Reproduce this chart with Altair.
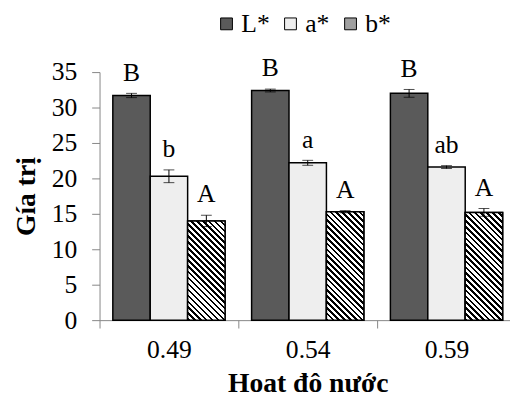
import altair as alt
import pandas as pd

categories = ["0.49", "0.54", "0.59"]
series = ["L*", "a*", "b*"]
L_vals = [31.7, 32.4, 32.0]
a_vals = [20.3, 22.2, 21.6]
b_vals = [14.0, 15.3, 15.2]
L_err = [0.3, 0.2, 0.55]
a_err = [0.9, 0.35, 0.2]
b_err = [0.8, 0.15, 0.55]
L_letters = ["B", "B", "B"]
a_letters = ["b", "a", "ab"]
b_letters = ["A", "A", "A"]
fill_colors = ["#5a5a5a", "#eeeeee", "#a0a0a0"]

rows = []
for s, vals, errs, lets in zip(series, [L_vals, a_vals, b_vals], [L_err, a_err, b_err],
                               [L_letters, a_letters, b_letters]):
    for c, v, e, t in zip(categories, vals, errs, lets):
        rows.append({"cat": c, "series": s, "value": v, "lo": v - e, "hi": v + e, "letter": t})
df = pd.DataFrame(rows)

FONT = "Liberation Serif"
PLOT_H = 252
Y_MAX = 35
STEP = 141
XO_PAD = 0.355
BAR_W = STEP / (3 + 2 * XO_PAD)

common_axis = dict(domainColor="#868686", tickColor="#868686", tickSize=8, domainWidth=1,
                   tickWidth=1, labelFont=FONT, labelFontSize=26, labelColor="black",
                   titleFont=FONT, titleFontSize=28, titleFontWeight="bold", titleColor="black")
x_axis = alt.Axis(title="Hoat đô nước", labelAngle=0, tickBand="extent",
                  labelPadding=9, titlePadding=8, **common_axis)
y_axis = alt.Axis(title="Gía trị", values=[0, 5, 10, 15, 20, 25, 30, 35], grid=False,
                  labelPadding=15, titlePadding=11, labelOverlap=False, **common_axis)
x_scale = alt.Scale(range=[0, 3 * STEP], paddingInner=0, paddingOuter=0)
xo_scale = alt.Scale(paddingInner=0, paddingOuter=XO_PAD)
y_scale = alt.Scale(domain=[0, Y_MAX], nice=False)


def X():
    return alt.X("cat:N", sort=categories, scale=x_scale, axis=x_axis)


def XO():
    return alt.XOffset("series:N", sort=series, scale=xo_scale)


def Y(field):
    return alt.Y(field, type="quantitative", scale=y_scale, axis=y_axis)


def stripe_gradient(value, period=6.0, dark=0.45):
    w = BAR_W
    h = value * PLOT_H / Y_MAX
    a = (w + h) / (w * w + h * h)
    n = max(1, round((w + h) / period))
    stops = []
    for i in range(n):
        s0 = i / n
        s1 = (i + dark) / n
        stops += [{"offset": s0, "color": "white"}, {"offset": s0, "color": "black"},
                  {"offset": s1, "color": "black"}, {"offset": s1, "color": "white"}]
    stops.append({"offset": 1, "color": "white"})
    return {"gradient": "linear", "x1": 0, "y1": 1, "x2": a * w, "y2": 1 - a * h,
            "stops": stops}


base = alt.Chart(df)

bars = base.mark_bar(stroke="black", strokeWidth=1.5).encode(
    x=X(), xOffset=XO(), y=Y("value"),
    fill=alt.Fill("series:N", sort=series,
                  scale=alt.Scale(domain=series, range=fill_colors),
                  legend=alt.Legend(title=None, orient="none", direction="horizontal",
                                    legendX=116, legendY=-62, symbolType="square",
                                    symbolSize=144, symbolStrokeColor="black",
                                    symbolStrokeWidth=1, labelFont=FONT, labelFontSize=26,
                                    labelColor="black", columnPadding=8, labelOffset=2)),
)

stripe_layers = []
for c, v in zip(categories, b_vals):
    stripe_layers.append(
        base.transform_filter(
            (alt.datum.series == "b*") & (alt.datum.cat == c)
        ).mark_bar(stroke="black", strokeWidth=1.5, fill=stripe_gradient(v)).encode(
            x=X(), xOffset=XO(), y=Y("value"))
    )

err_rule = base.mark_rule(color="black", strokeWidth=1).encode(
    x=X(), xOffset=XO(), y=Y("lo"), y2="hi:Q")
cap_lo = base.mark_tick(color="black", size=11, thickness=1).encode(
    x=X(), xOffset=XO(), y=Y("lo"))
cap_hi = base.mark_tick(color="black", size=11, thickness=1).encode(
    x=X(), xOffset=XO(), y=Y("hi"))
labels = base.mark_text(font=FONT, fontSize=26, color="black", dy=-13,
                        baseline="alphabetic").encode(
    x=X(), xOffset=XO(), y=Y("hi"), text="letter:N")

chart = alt.layer(bars, *stripe_layers, err_rule, cap_lo, cap_hi, labels).properties(
    width=417, height=PLOT_H,
    autosize=alt.AutoSizeParams(type="none"),
    padding={"left": 93, "top": 62, "right": 0, "bottom": 77},
).configure_view(stroke=None)

chart.save("out.html", embed_options={"renderer": "svg", "actions": False})
